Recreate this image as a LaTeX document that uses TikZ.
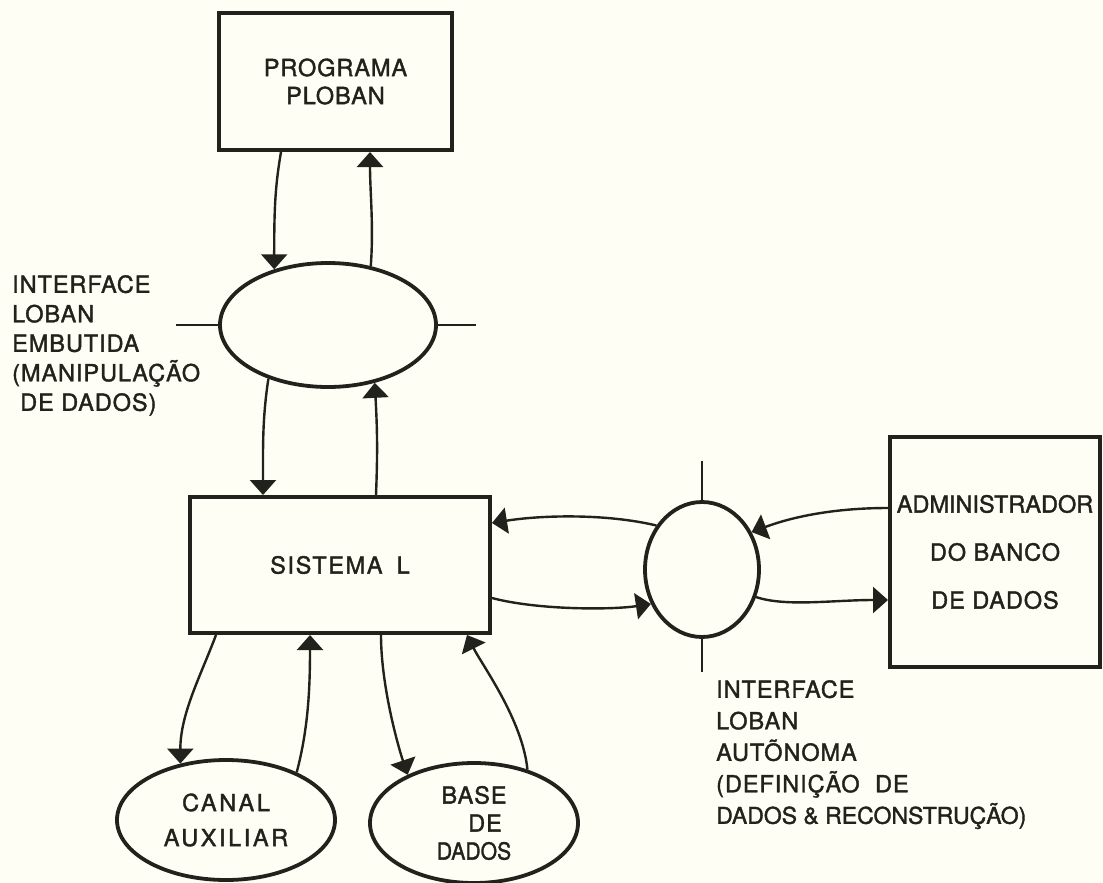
\documentclass[tikz,border=0pt]{standalone}
\usepackage{fontspec}
\setmainfont[FakeBold=1.6]{TeX Gyre Heros}
% letter-spaced variants of the lettering
\newfontfamily\lsnone[FakeBold=1.6]{TeX Gyre Heros}
\newfontfamily\lslight[LetterSpace=4,FakeBold=1.6]{TeX Gyre Heros}
\newfontfamily\lsmid[LetterSpace=7,FakeBold=1.6]{TeX Gyre Heros}
\newfontfamily\lswide[LetterSpace=11,FakeBold=1.6]{TeX Gyre Heros}
\usetikzlibrary{arrows.meta,shapes.geometric,calc}
\definecolor{paper}{RGB}{254,254,244}
\definecolor{ink}{RGB}{34,34,28}

\begin{document}
\begin{tikzpicture}[x=1pt,y=-1pt,
  every node/.style={inner sep=0pt, text=ink},
  block/.style={draw=ink, line width=4pt, rectangle, align=center},
  oval/.style={draw=ink, line width=3.8pt, ellipse, align=center},
  flow/.style={draw=ink, line width=2.4pt, -{Triangle[width=26pt,length=15pt]}},
  tickmark/.style={draw=ink, line width=2.2pt},
  lbl/.style={align=left, anchor=north west}
]
\fill[paper] (0,0) rectangle (1103,883);
\useasboundingbox (0,0) rectangle (1103,883);

% boxes
\node[block, minimum width=233pt, minimum height=137pt,
      font=\lslight\fontsize{23.5}{28}\selectfont] (P) at (335.5,81.5)
      {PROGRAMA\\PLOBAN};
\node[block, minimum width=300pt, minimum height=136pt,
      font=\lsmid\fontsize{23.5}{28}\selectfont] (S) at (340,565)
      {SISTEMA\hspace{6pt} L};
\node[block, minimum width=210pt, minimum height=230pt,
      font=\lslight\fontsize{23.5}{48}\selectfont] (A) at (995,552)
      {{\lsnone ADMINISTRADOR}\\DO BANCO\\DE DADOS};

% interfaces and stores
\node[oval, minimum width=216pt, minimum height=124pt] (E1) at (328,325) {};
\node[oval, minimum width=114pt, minimum height=135pt] (E2) at (702,569.5) {};
\node[oval, minimum width=218pt, minimum height=120pt,
      font=\lswide\fontsize{23.5}{35}\selectfont] (C) at (226,820)
      {CANAL\\AUXILIAR};
\node[oval, minimum width=208pt, minimum height=120pt,
      font=\lslight\fontsize{23.5}{28}\selectfont] (B) at (474,823)
      {BASE\\\hspace*{22pt}DE\\{\lsnone\scalebox{0.9}[1]{DADOS}}};

% boundary ticks
\draw[tickmark] (E1.west) -- ++(-42,0);
\draw[tickmark] (E1.east) -- ++(38,0);
\draw[tickmark] (E2.north) -- ++(0,-39);
\draw[tickmark] (E2.south) -- ++(0,33);

% flows between PROGRAMA and the embedded interface
\draw[flow] ($(P.south west)+(64,0)$) .. controls +(-6,35) and +(0,-60) .. (E1.134);
\draw[flow] (E1.54) .. controls +(3,-40) and +(0,40) .. ($(P.south west)+(153,0)$);
% flows between the embedded interface and SISTEMA L
\draw[flow] (E1.222) .. controls +(-6,40) and +(0,-50) .. ($(S.north west)+(75,0)$);
\draw[flow] ($(S.north west)+(188,0)$) .. controls +(2,-50) and +(2,40) .. (E1.309);
% flows through the autonomous interface
\draw[flow] (E2.136) .. controls +(-50,-12) and +(50,-8) .. ($(S.north east)+(0,28)$);
\draw[flow] ($(S.north east)+(0,103)$) .. controls +(45,12) and +(-40,6) .. (E2.214);
\draw[flow] ($(A.north west)+(0,73)$) .. controls +(-55,0) and +(40,-15) .. (E2.37);
\draw[flow] (E2.333) .. controls +(30,10) and +(-55,0) .. ($(A.north west)+(0,165)$);
% flows to the stores
\draw[flow] ($(S.south west)+(28,0)$) .. controls +(-15,40) and +(0,-50) .. (C.129);
\draw[flow] (C.34) .. controls +(12,-45) and +(0,50) .. ($(S.south west)+(122,0)$);
\draw[flow] ($(S.south west)+(193,0)$) .. controls +(0,50) and +(-10,-30) .. (B.144);
\draw[flow] (B.45) .. controls +(-5,-50) and +(15,30) .. ($(S.south east)+(-25,0)$);

% interface captions
\node[lbl, font=\lslight\fontsize{23.5}{29.5}\selectfont] (embLbl) at (12,275)
  {INTERFACE\\LOBAN\\EMBUTIDA\\(MANIPULAÇÃO\\\hspace*{8pt}DE DADOS)};
\node[lbl, font=\lslight\fontsize{23.5}{31.5}\selectfont] (autLbl) at (716,680)
  {INTERFACE\\LOBAN\\AUTÕNOMA\\(DEFINIÇÃO\hspace{8pt} DE\\{\lsnone\fontsize{23}{31.5}\selectfont DADOS \& RECONSTRUÇÃO)}};
\end{tikzpicture}
\end{document}
